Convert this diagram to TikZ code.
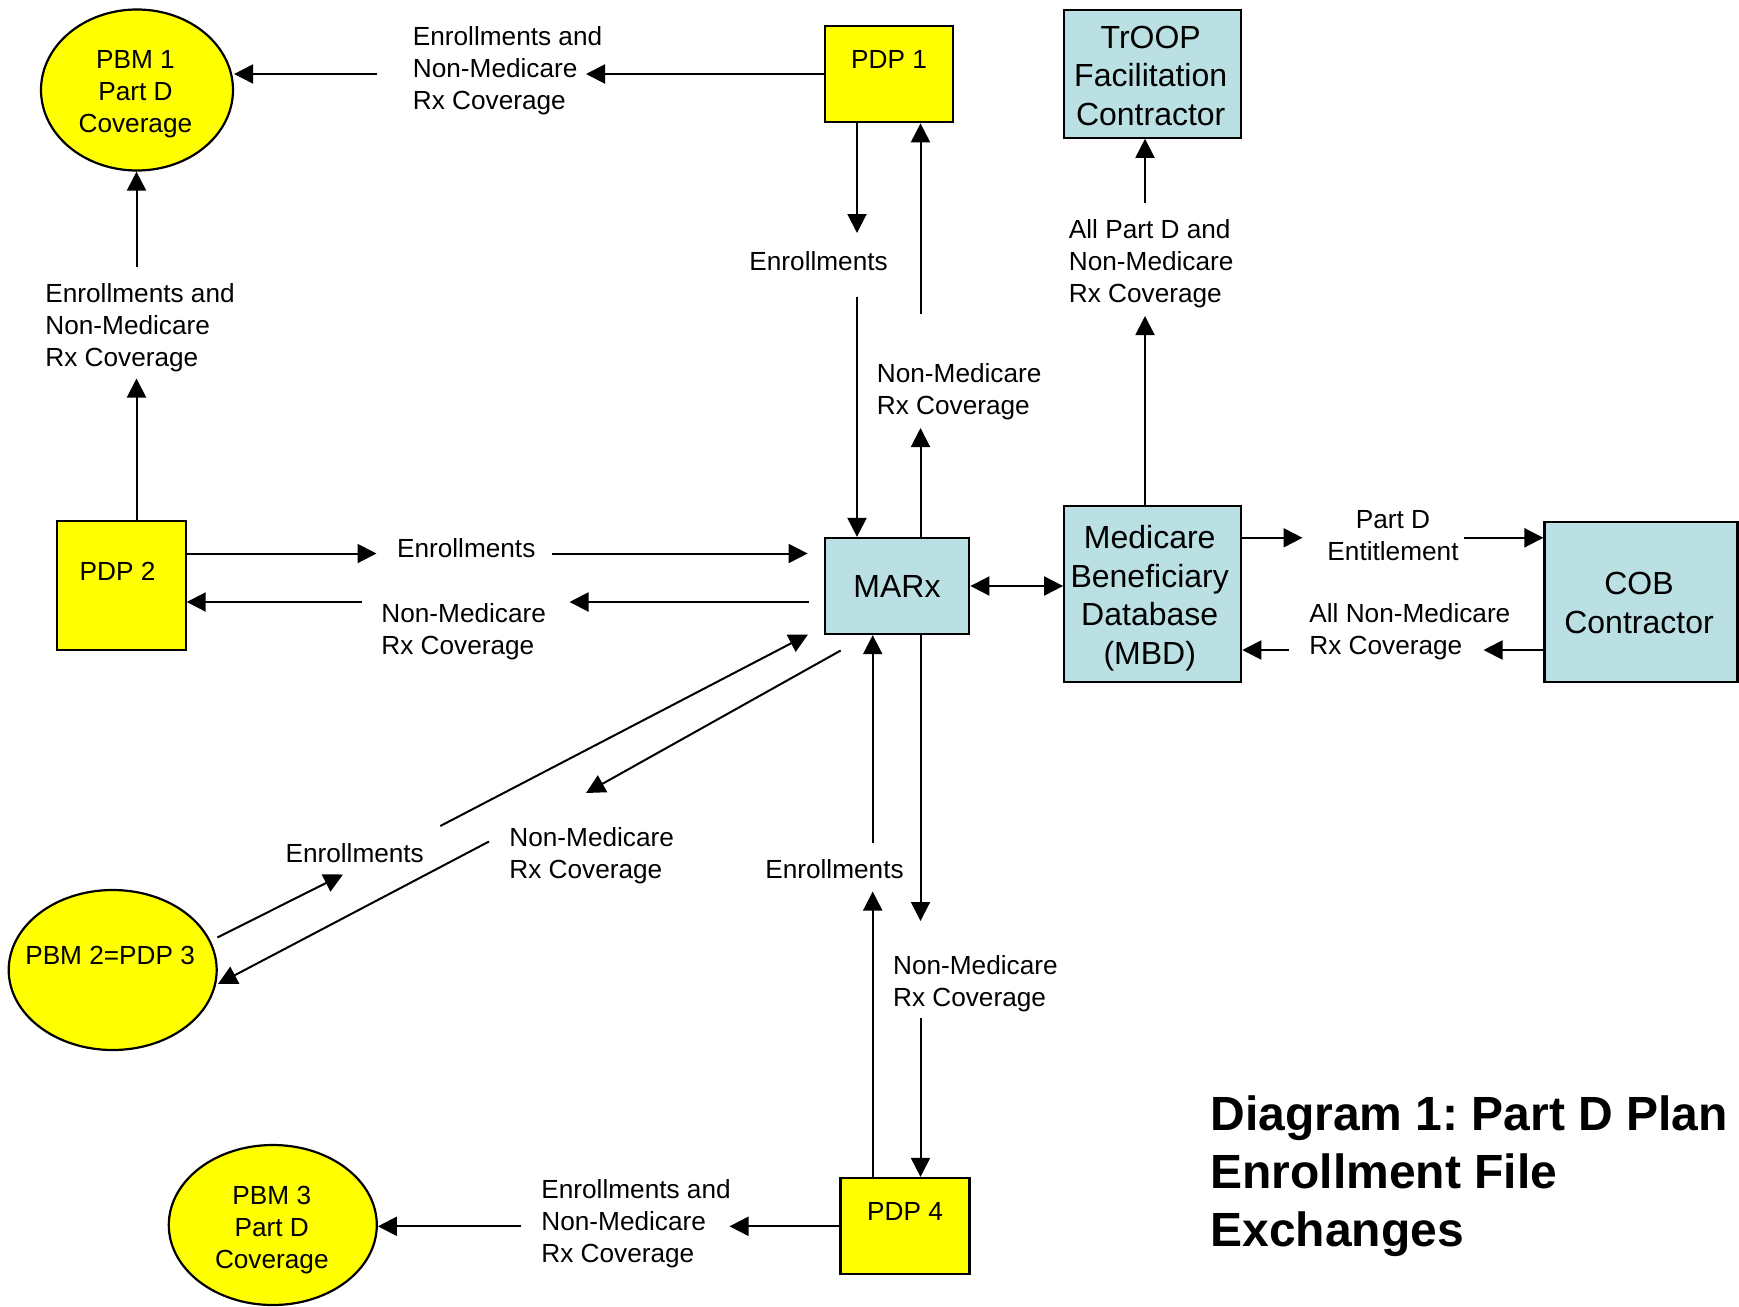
\documentclass[tikz,border=0pt]{standalone}
\usepackage{fontspec}
\setmainfont{Liberation Sans}
\usetikzlibrary{arrows.meta,shapes.geometric}
\definecolor{mblue}{RGB}{186,224,227}
\definecolor{pyellow}{RGB}{255,255,0}
\newcommand\lblfont{\fontsize{13.1}{16}\selectfont}
\newcommand\boxfont{\fontsize{16}{19.2}\selectfont}
\newcommand\ttlfont{\fontsize{24}{29}\selectfont\bfseries}
\frenchspacing
\begin{document}
\begin{tikzpicture}[x=0.5pt,y=-0.5pt,
  conn/.style={line width=1pt, -{Triangle[length=9.5pt,width=9.5pt]}},
  plainbox/.style={draw, line width=1.1pt, inner sep=0pt},
  yellowbox/.style={plainbox, fill=pyellow},
  bluebox/.style={plainbox, fill=mblue, font=\boxfont, align=center},
  oval/.style={ellipse, draw, line width=1.1pt, fill=pyellow, inner sep=0pt, font=\lblfont, align=center},
  lbl/.style={font=\lblfont, align=left, inner sep=0pt, anchor=west},
  lblc/.style={font=\lblfont, align=center, inner sep=0pt},
  ]
\useasboundingbox (0,0) rectangle (1739,1306);

% nodes
\node[oval, minimum width=96pt, minimum height=80.5pt,
      label={[font=\lblfont, align=center, yshift=-2.3pt, xshift=-0.8pt]center:PBM 1\\Part D\\Coverage}] (pbmA) at (137,90) {};
\node[yellowbox, minimum width=64pt, minimum height=48.25pt,
      label={[font=\lblfont, yshift=7.5pt]center:PDP 1}] (pdpA) at (889,74) {};
\node[bluebox, minimum width=88.5pt, minimum height=64pt,
      label={[font=\boxfont, align=center, yshift=-1pt, xshift=-1pt]center:TrOOP\\Facilitation\\Contractor}] (troop) at (1152.7,73.7) {};
\node[yellowbox, minimum width=64.4pt, minimum height=64.35pt,
      label={[font=\lblfont, yshift=7.3pt, xshift=-1.8pt]center:PDP 2}] (pdpB) at (121.2,585.7) {};
\node[bluebox, minimum width=72.3pt, minimum height=48pt] (marx) at (897,586) {MARx};
\node[bluebox, minimum width=88.5pt, minimum height=88pt,
      label={[font=\boxfont, align=center, yshift=-2.2pt, xshift=-1.5pt]center:Medicare\\Beneficiary\\Database\\(MBD)}] (mbd) at (1152.7,593.8) {};
\node[bluebox, minimum width=96.5pt, minimum height=80pt,
      label={[font=\boxfont, align=center, yshift=-0.6pt, xshift=-1pt]center:COB\\Contractor}] (cob) at (1641,601.7) {};
\node[oval, minimum width=104pt, minimum height=80pt,
      label={[font=\lblfont, yshift=7.5pt, xshift=-1.3pt]center:PBM 2=PDP 3}] (pbmB) at (112.7,970) {};
\node[oval, minimum width=104pt, minimum height=80pt,
      label={[font=\lblfont, align=center, yshift=-2.5pt, xshift=-0.5pt]center:PBM 3\\Part D\\Coverage}] (pbmC) at (272.8,1225) {};
\node[yellowbox, minimum width=64.5pt, minimum height=48pt,
      label={[font=\lblfont, yshift=7.5pt]center:PDP 4}] (pdpD) at (905,1226) {};

% C1 PDP1 -> PBM1
\coordinate (g1a) at (586,74); \coordinate (g1b) at (377,74);
\draw[conn] (pdpA.west) -- (g1a);
\node[lbl] (l1) at (412.5,71) {Enrollments and\\Non-Medicare\\Rx Coverage};
\draw[conn] (g1b) -- (g1b -| pbmA.east);

% C2 PDP1 -> MARx
\coordinate (g2a) at (857,233); \coordinate (g2b) at (857,297);
\draw[conn] (g2a |- pdpA.south) -- (g2a);
\node[lblc] (l2) at (818.6,261.5) {Enrollments};
\draw[conn] (g2b) -- (g2b |- marx.north);

% C3 MARx -> PDP1
\coordinate (g3a) at (920.5,428); \coordinate (g3b) at (920.5,314);
\draw[conn] (g3a |- marx.north) -- (g3a);
\node[lbl] (l3) at (876.5,392) {Non-Medicare\\Rx Coverage};
\draw[conn] (g3b) -- (g3b |- pdpA.south);

% C4 MBD -> TrOOP
\coordinate (g4a) at (1145,316); \coordinate (g4b) at (1145,202.5);
\draw[conn] (g4a |- mbd.north) -- (g4a);
\node[lbl] (l4) at (1068.5,263.5) {All Part D and\\Non-Medicare\\Rx Coverage};
\draw[conn] (g4b) -- (g4b |- troop.south);

% C5 PDP2 -> PBM1
\coordinate (g5a) at (136.5,378.5); \coordinate (g5b) at (136.5,266.5);
\draw[conn] (g5a |- pdpB.north) -- (g5a);
\node[lbl] (l5) at (45,327.5) {Enrollments and\\Non-Medicare\\Rx Coverage};
\draw[conn] (g5b) -- (g5b |- pbmA.south);

% C6 PDP2 -> MARx
\coordinate (g6a) at (376.5,553.5); \coordinate (g6b) at (552.3,553.5);
\draw[conn] (g6a -| pdpB.east) -- (g6a);
\node[lblc] (l6) at (466.2,548.5) {Enrollments};
\draw[conn, shorten >=8pt] (g6b) -- (g6b -| marx.west);

% C7 MARx -> PDP2
\coordinate (g7a) at (569.5,602); \coordinate (g7b) at (361.5,602);
\draw[conn, shorten <=7.5pt] (g7a -| marx.west) -- (g7a);
\node[lbl] (l7) at (381,632) {Non-Medicare\\Rx Coverage};
\draw[conn] (g7b) -- (g7b -| pdpB.east);

% C8 PBM2 -> MARx
\coordinate (p8s) at (217.4,937.5); \coordinate (p8a) at (343,874.5);
\coordinate (p8b) at (440.3,826); \coordinate (p8e) at (808,634.5);
\draw[conn] (p8s) -- (p8a);
\node[lblc] (l8) at (354.7,853) {Enrollments};
\draw[conn] (p8b) -- (p8e);

% C9 MARx -> PBM2
\coordinate (p9s) at (840.7,650.5); \coordinate (p9a) at (586,793);
\coordinate (p9b) at (489,841.5); \coordinate (p9e) at (218,984);
\draw[conn] (p9s) -- (p9a);
\node[lbl] (l9) at (509,856) {Non-Medicare\\Rx Coverage};
\draw[conn] (p9b) -- (p9e);

% C10 PDP4 -> MARx
\coordinate (g10a) at (872.7,891.5); \coordinate (g10b) at (872.7,842.5);
\draw[conn] (g10a |- pdpD.north) -- (g10a);
\node[lblc] (l10) at (834.5,869) {Enrollments};
\draw[conn] (g10b) -- (g10b |- marx.south);

% C11 MARx -> PDP4
\coordinate (g11a) at (920.5,921); \coordinate (g11b) at (920.5,1018);
\draw[conn] (g11a |- marx.south) -- (g11a);
\node[lbl] (l11) at (892.7,983.5) {Non-Medicare\\Rx Coverage};
\draw[conn] (g11b) -- (g11b |- pdpD.north);

% C12 PDP4 -> PBM3
\coordinate (g12a) at (729.5,1226.3); \coordinate (g12b) at (521,1226.3);
\draw[conn] (g12a -| pdpD.west) -- (g12a);
\node[lbl] (l12) at (541,1224) {Enrollments and\\Non-Medicare\\Rx Coverage};
\draw[conn] (g12b) -- (g12b -| pbmC.east);

% C13 MARx <-> MBD
\draw[line width=1pt, {Triangle[length=9.5pt,width=9.5pt]}-{Triangle[length=9.5pt,width=9.5pt]}]
  (marx.east) -- (marx.east -| mbd.west);

% C14 MBD -> COB
\coordinate (g14a) at (1302.5,537.8); \coordinate (g14b) at (1464,537.8);
\draw[conn] (g14a -| mbd.east) -- (g14a);
\node[lblc] (l14) at (1393,536) {Part D\\Entitlement};
\draw[conn] (g14b) -- (g14b -| cob.west);

% C15 COB -> MBD
\coordinate (g15a) at (1483.5,650); \coordinate (g15b) at (1288.5,650);
\draw[conn] (g15a -| cob.west) -- (g15a);
\node[lbl] (l15) at (1309,632) {All Non-Medicare\\Rx Coverage};
\draw[conn] (g15b) -- (g15b -| mbd.east);

% title
\node[font=\ttlfont, align=left, anchor=north west, inner sep=0pt] (title) at (1210,1095)
  {Diagram 1: Part D Plan\\Enrollment File\\Exchanges};
\end{tikzpicture}
\end{document}
